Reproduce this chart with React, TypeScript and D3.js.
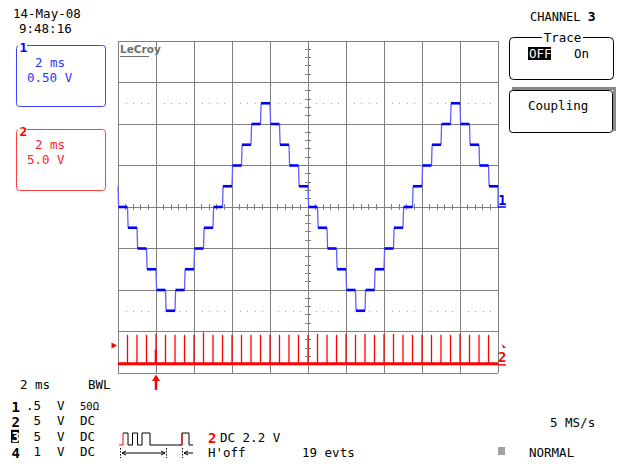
import * as d3 from 'd3'

// ── Screen / channel settings ────────────────────────────────────────────────
const SCREEN_MS = 20
const DIVS_X = 10
const DIVS_Y = 8
const STEP_MS = 0.5
const CH1_V_PER_DIV = 0.5
const CH2_V_PER_DIV = 5
const CH2_OFFSET_V = 18.9 // ch2 ground sits this far below screen centre
const TRIGGER_MS = 2
const TRIGGER_V = 2.2

// ch1 staircase level (V) held during each 0.5 ms step
const ch1Levels = [
  0, -0.25, -0.5, -0.75, -1.0, -1.25, -1.0, -0.75, -0.5, -0.25,
  0, 0.25, 0.5, 0.75, 1.0, 1.25, 1.0, 0.75, 0.5, 0.25,
  0, -0.25, -0.5, -0.75, -1.0, -1.25, -1.0, -0.75, -0.5, -0.25,
  0, 0.25, 0.5, 0.75, 1.0, 1.25, 1.0, 0.75, 0.5, 0.25,
]
const ch1StartLevel = 0.25
const ch1EndLevel = 0

// ch2 clock pulse heights (V), one pulse per step edge
const ch2Pulses = [
  3.5, 3.5, 3.5, 3.6, 3.5, 3.5, 3.5, 3.5, 3.8, 3.5,
  3.5, 3.5, 3.5, 3.5, 3.5, 3.5, 3.5, 3.5, 3.5, 3.5,
  3.6, 3.5, 3.5, 3.6, 3.5, 3.6, 3.5, 3.6, 3.6, 3.5,
  3.5, 3.5, 3.5, 3.5, 3.5, 3.6, 3.5, 3.5, 3.5,
]

// pulse glyph next to the trigger readout (edge positions in px, from left of glyph)
const glyphEdges = [4, 9, 13.5, 18.5, 23, 31, 63, 70]

const bottomRows = [
  { ch: '1', scale: '.5', unit: 'V', coupling: '50Ω' },
  { ch: '2', scale: '5', unit: 'V', coupling: 'DC' },
  { ch: '3', scale: '5', unit: 'V', coupling: 'DC' },
  { ch: '4', scale: '1', unit: 'V', coupling: 'DC' },
]

const GRID = { left: 118, right: 498, top: 41, bottom: 373 }
const FONT = '"DejaVu Sans Mono", monospace'
const BLUE = '#0000ff'
const BLUE_LIGHT = '#6060ff'
const RED = '#ff0000'
const GRID_COLOR = '#808080'

export default function App() {
  const x = d3.scaleLinear([0, SCREEN_MS], [GRID.left, GRID.right])
  const gx = d3.scaleLinear([0, DIVS_X], [GRID.left, GRID.right])
  const gy = d3.scaleLinear([0, DIVS_Y], [GRID.top, GRID.bottom])
  const half1 = (DIVS_Y / 2) * CH1_V_PER_DIV
  const y1 = d3.scaleLinear([-half1, half1], [GRID.bottom, GRID.top])
  const half2 = (DIVS_Y / 2) * CH2_V_PER_DIV
  const y2 = d3.scaleLinear([CH2_OFFSET_V - half2, CH2_OFFSET_V + half2], [GRID.bottom, GRID.top])

  const cx = gx(DIVS_X / 2)
  const cy = gy(DIVS_Y / 2)
  const minor = d3.range(0, DIVS_X * 5 + 1).map(i => i / 5)
  const minorY = d3.range(0, DIVS_Y * 5 + 1).map(i => i / 5)

  // dotted reference lines at ±2.5 div
  const dotted = [DIVS_Y / 2 - 2.5, DIVS_Y / 2 + 2.5]

  return (
    <svg width={623} height={464} style={{ position: 'absolute', left: 0, top: 0, background: '#fff' }}
      fontFamily={FONT}>
      <rect width={623} height={464} fill="#fff" />

      {/* ── Header ─────────────────────────────────────────── */}
      <text x={13} y={18} fontSize={12.5}>14-May-08</text>
      <text x={19} y={33} fontSize={12.5}>9:48:16</text>

      {/* ── Channel boxes ──────────────────────────────────── */}
      <rect x={16.5} y={45.5} width={89} height={61} rx={3} fill="none" stroke="#4040ff" />
      <rect x={18} y={40} width={9} height={12} fill="#fff" />
      <text x={19.5} y={51.5} fontSize={13} fontWeight="bold" fill={BLUE}>1</text>
      <text x={35} y={67} fontSize={12.5} fill="#3030ff">2 ms</text>
      <text x={27} y={81.5} fontSize={12.5} fill="#3030ff">0.50 V</text>

      <rect x={16.5} y={129.5} width={89} height={61} rx={3} fill="none" stroke="#ff4040" />
      <rect x={18} y={124} width={9} height={12} fill="#fff" />
      <text x={19.5} y={135.5} fontSize={13} fontWeight="bold" fill={RED}>2</text>
      <text x={35} y={149} fontSize={12.5} fill="#ff2020">2 ms</text>
      <text x={27} y={164} fontSize={12.5} fill="#ff2020">5.0 V</text>

      {/* ── Right menu ─────────────────────────────────────── */}
      <text x={530} y={21} fontSize={12}>CHANNEL <tspan fontWeight="bold" fontSize={13}>3</tspan></text>
      <rect x={509.5} y={37.5} width={104} height={42} rx={4} fill="none" stroke="#000" />
      <rect x={542} y={31} width={41} height={12} fill="#fff" />
      <text x={562.5} y={42} fontSize={12.5} textAnchor="middle">Trace</text>
      <rect x={528} y={47} width={23} height={13} fill="#000" />
      <text x={529} y={58} fontSize={12.5} fill="#fff">OFF</text>
      <text x={574} y={58} fontSize={12.5}>On</text>

      <path d="M512,90 L512,87 L616,87 L616,131 L613,131 L613,90 Z" fill="#8a8a8a" />
      <rect x={509.5} y={90.5} width={103} height={42} rx={3} fill="#fff" stroke="#000" />
      <text x={528} y={110} fontSize={12.5}>Coupling</text>

      {/* ── Graticule ─────────────────────────────────────── */}
      <g stroke={GRID_COLOR} strokeWidth={1} shapeRendering="crispEdges">
        {d3.range(0, DIVS_X + 1).map(i => (
          <line key={`v${i}`} x1={gx(i)} x2={gx(i)} y1={GRID.top} y2={GRID.bottom} />
        ))}
        {d3.range(0, DIVS_Y + 1).map(i => (
          <line key={`h${i}`} x1={GRID.left} x2={GRID.right} y1={gy(i)} y2={gy(i)} />
        ))}
        {minor.map(d => (
          <line key={`mx${d}`} x1={gx(d)} x2={gx(d)} y1={cy - 3} y2={cy + 3} />
        ))}
        {minorY.map(d => (
          <line key={`my${d}`} x1={cx - 3} x2={cx + 3} y1={gy(d)} y2={gy(d)} />
        ))}
      </g>
      <g fill="#a8a8a8">
        {dotted.map(dv =>
          minor.filter(d => Math.abs(d - Math.round(d)) > 0.01).map(d => (
            <rect key={`d${dv}-${d}`} x={Math.round(gx(d))} y={Math.round(gy(dv))} width={1} height={1} />
          ))
        )}
      </g>

      {/* LeCroy logo */}
      <text x={120} y={53} fontSize={10.5} fontWeight="bold" fill="#707070"
        fontFamily='"DejaVu Sans", sans-serif'>LeCroy</text>
      <line x1={120} x2={149} y1={56.5} y2={56.5} stroke="#707070" strokeWidth={1} />

      {/* ── Channel 1 staircase ────────────────────────────── */}
      <g>
        {ch1Levels.map((v, i) => {
          const prev = i === 0 ? ch1StartLevel : ch1Levels[i - 1]
          return (
            <line key={`t${i}`} x1={x(i * STEP_MS)} x2={x(i * STEP_MS) + 0.6}
              y1={y1(prev)} y2={y1(v)} stroke={BLUE_LIGHT} strokeWidth={1.3} />
          )
        })}
        <line x1={x(ch1Levels.length * STEP_MS)} x2={x(ch1Levels.length * STEP_MS)}
          y1={y1(ch1Levels[ch1Levels.length - 1])} y2={y1(ch1EndLevel)} stroke={BLUE_LIGHT} strokeWidth={1.3} />
        {ch1Levels.map((v, i) => (
          <line key={`s${i}`} x1={x(i * STEP_MS) + 0.5} x2={x((i + 1) * STEP_MS)}
            y1={y1(v)} y2={y1(v)} stroke={BLUE} strokeWidth={2.6} />
        ))}
      </g>
      <text x={498} y={205} fontSize={14} fontWeight="bold" fill={BLUE}>1</text>
      <line x1={498} x2={506} y1={y1(0)} y2={y1(0)} stroke={BLUE} strokeWidth={1.5} />

      {/* ── Channel 2 pulse train ──────────────────────────── */}
      <g stroke={RED}>
        {ch2Pulses.map((h, i) => (
          <line key={`p${i}`} x1={x((i + 1) * STEP_MS)} x2={x((i + 1) * STEP_MS)}
            y1={y2(0)} y2={y2(h)} strokeWidth={1.3} />
        ))}
        <line x1={x(TRIGGER_MS) - 0.3} x2={x(TRIGGER_MS) - 0.3} y1={y2(0)} y2={y2(1.7)} strokeWidth={2} />
        <line x1={GRID.left} x2={GRID.right} y1={y2(0)} y2={y2(0)} strokeWidth={3} />
      </g>
      <text x={498} y={362} fontSize={14} fontWeight="bold" fill={RED}>2</text>
      <path d={`M502,${y2(2.4)} L506,${y2(2.4) + 4} L503,${y2(2.4) + 4} Z`} fill={RED} />
      <line x1={498} x2={506} y1={y2(0) + 1} y2={y2(0) + 1} stroke={RED} strokeWidth={1.5} />

      {/* trigger level + position markers */}
      <path d={`M111.5,${y2(TRIGGER_V) - 3} L117,${y2(TRIGGER_V)} L111.5,${y2(TRIGGER_V) + 3} Z`} fill={RED} />
      <path d={`M${x(TRIGGER_MS) - 4},381 L${x(TRIGGER_MS)},374.5 L${x(TRIGGER_MS) + 4},381 Z`} fill={RED} />
      <line x1={x(TRIGGER_MS)} x2={x(TRIGGER_MS)} y1={379} y2={390} stroke={RED} strokeWidth={2.5} />

      {/* ── Bottom readout ─────────────────────────────────── */}
      <text x={20} y={389} fontSize={12.5}>2 ms</text>
      <text x={88} y={389} fontSize={12.5}>BWL</text>

      {bottomRows.map((r, i) => {
        const by = 410 + i * 15.4
        return (
          <g key={r.ch}>
            {r.ch === '3' ? (
              <>
                <rect x={11} y={by - 11} width={8} height={13} fill="#000" />
                <text x={11.5} y={by + 1} fontSize={14} fontWeight="bold" fill="#fff">3</text>
              </>
            ) : (
              <text x={11.5} y={by + 1.5} fontSize={14} fontWeight="bold">{r.ch}</text>
            )}
            <text x={41} y={by} fontSize={12.5} textAnchor="end">{r.scale}</text>
            <text x={57} y={by} fontSize={12.5}>{r.unit}</text>
            <text x={80} y={by} fontSize={r.coupling === 'DC' ? 12.5 : 10.5}>{r.coupling}</text>
          </g>
        )
      })}

      {/* trigger pattern glyph */}
      <g fill="none" strokeWidth={1}>
        <path
          d={d3.line()(
            [[119, 445], [119 + glyphEdges[0], 445], [119 + glyphEdges[0], 433]] as [number, number][]
          ) ?? ''}
          stroke={RED} />
        <path
          d={d3.line()(
            glyphEdges.slice(0, 6).flatMap((e, i) => {
              const hi = i % 2 === 0
              const next = glyphEdges[i + 1]
              const a = hi ? 433 : 445
              const b = hi ? 445 : 433
              return [[119 + e, a], [119 + next, a], [119 + next, b]] as [number, number][]
            })
          ) ?? ''}
          stroke="#000" />
        <path d={`M${119 + glyphEdges[6] - 3},445 L${119 + glyphEdges[6]},445 L${119 + glyphEdges[6]},433`} stroke={RED} />
        <path d={`M${119 + glyphEdges[6]},433 L${119 + glyphEdges[7]},433 L${119 + glyphEdges[7]},445 L193,445`} stroke="#000" />
        <g stroke="#000">
          <line x1={120.5} x2={120.5} y1={448} y2={458} strokeDasharray="1.5,1.5" />
          <line x1={166.5} x2={166.5} y1={448} y2={458} strokeDasharray="1.5,1.5" />
          <line x1={182.5} x2={182.5} y1={448} y2={458} strokeDasharray="1.5,1.5" />
          <line x1={122} x2={165} y1={453} y2={453} />
          <line x1={184} x2={193} y1={453} y2={453} />
          <path d="M122,453 L126,451 M122,453 L126,455 M165,453 L161,451 M165,453 L161,455 M184,453 L188,451 M184,453 L188,455" />
        </g>
      </g>

      <text x={208} y={443} fontSize={14} fontWeight="bold" fill={RED}>2</text>
      <text x={220} y={442} fontSize={12.5}>DC 2.2 V</text>
      <text x={208} y={457} fontSize={12.5}>H'off</text>
      <text x={302} y={457} fontSize={12.5}>19 evts</text>
      <text x={550} y={427} fontSize={12.5}>5 MS/s</text>
      <rect x={498} y={447} width={7} height={8} fill="#a0a0a0" />
      <text x={529} y={457} fontSize={12.5}>NORMAL</text>
    </svg>
  )
}
